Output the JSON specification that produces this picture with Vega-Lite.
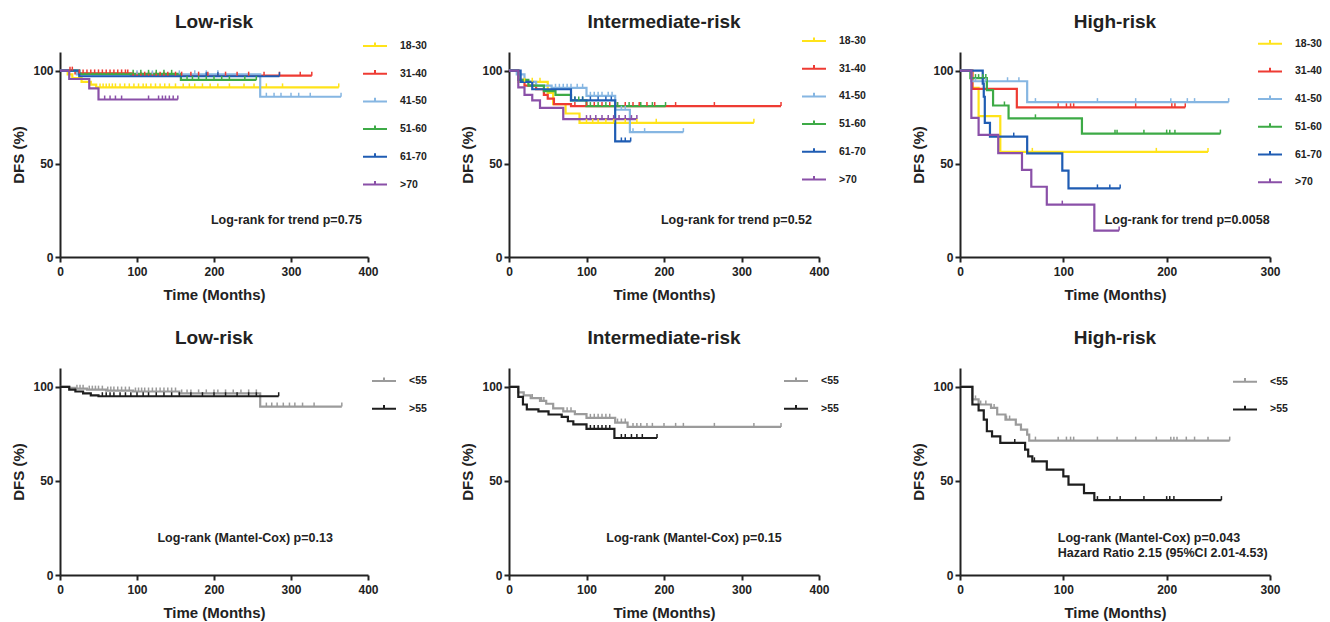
{
"$schema":"https://vega.github.io/schema/vega-lite/v6.json",
"padding":{"left":11,"top":13,"right":5,"bottom":2},
"background":"white",
"config":{
 "font":"Liberation Sans",
 "view":{"stroke":null},
 "axis":{"domainColor":"#222","domainWidth":2,"tickColor":"#222","tickWidth":2,"tickSize":5,"labelFontSize":12,"labelFontWeight":"bold","labelColor":"#222","labelPadding":2,"titleFontSize":15,"titleFontWeight":"bold","titleColor":"#222","grid":false,"labelFlush":false,"labelOverlap":false},
 "axisX":{"titlePadding":10,"labelPadding":4},
 "axisY":{"titlePadding":6},
 "title":{"fontSize":19,"fontWeight":"bold","color":"#222","frame":"group","offset":20,"anchor":"middle"},
 "legend":{"orient":"none","labelFontSize":10.5,"labelFontWeight":"bold","labelColor":"#222","symbolType":"M-1,0H1M0,0V-0.3","symbolSize":576,"symbolStrokeWidth":2,"labelOffset":12,"rowPadding":8.7,"padding":0}
},
"datasets":{
"steps":[
{"p":"TL","g":"18-30","t":0,"v":100},{"p":"TL","g":"18-30","t":10,"v":98},{"p":"TL","g":"18-30","t":16,"v":96},{"p":"TL","g":"18-30","t":28,"v":94},{"p":"TL","g":"18-30","t":40,"v":92.5},{"p":"TL","g":"18-30","t":47,"v":91},{"p":"TL","g":"18-30","t":362,"v":91},
{"p":"TL","g":"31-40","t":0,"v":100},{"p":"TL","g":"31-40","t":20,"v":98.5},{"p":"TL","g":"31-40","t":92,"v":97.3},{"p":"TL","g":"31-40","t":327,"v":97.3},
{"p":"TL","g":"41-50","t":0,"v":100},{"p":"TL","g":"41-50","t":22,"v":98},{"p":"TL","g":"41-50","t":260,"v":86},{"p":"TL","g":"41-50","t":365,"v":86},
{"p":"TL","g":"51-60","t":0,"v":100},{"p":"TL","g":"51-60","t":25,"v":98.3},{"p":"TL","g":"51-60","t":157,"v":95},{"p":"TL","g":"51-60","t":255,"v":95},
{"p":"TL","g":"61-70","t":0,"v":100},{"p":"TL","g":"61-70","t":25,"v":97},{"p":"TL","g":"61-70","t":285,"v":97},
{"p":"TL","g":">70","t":0,"v":100},{"p":"TL","g":">70","t":12,"v":95.5},{"p":"TL","g":">70","t":38,"v":90.5},{"p":"TL","g":">70","t":50,"v":84.5},{"p":"TL","g":">70","t":153,"v":84.5},
{"p":"TM","g":"18-30","t":0,"v":100},{"p":"TM","g":"18-30","t":12,"v":94},{"p":"TM","g":"18-30","t":50,"v":88},{"p":"TM","g":"18-30","t":57,"v":82},{"p":"TM","g":"18-30","t":73,"v":77},{"p":"TM","g":"18-30","t":91,"v":72},{"p":"TM","g":"18-30","t":316,"v":72},
{"p":"TM","g":"31-40","t":0,"v":100},{"p":"TM","g":"31-40","t":12,"v":95},{"p":"TM","g":"31-40","t":20,"v":92},{"p":"TM","g":"31-40","t":35,"v":90},{"p":"TM","g":"31-40","t":45,"v":87},{"p":"TM","g":"31-40","t":50,"v":85},{"p":"TM","g":"31-40","t":58,"v":82},{"p":"TM","g":"31-40","t":80,"v":81},{"p":"TM","g":"31-40","t":351,"v":81},
{"p":"TM","g":"41-50","t":0,"v":100},{"p":"TM","g":"41-50","t":10,"v":98},{"p":"TM","g":"41-50","t":20,"v":94},{"p":"TM","g":"41-50","t":35,"v":92},{"p":"TM","g":"41-50","t":55,"v":90.8},{"p":"TM","g":"41-50","t":100,"v":86.5},{"p":"TM","g":"41-50","t":137,"v":79},{"p":"TM","g":"41-50","t":156,"v":67},{"p":"TM","g":"41-50","t":225,"v":67},
{"p":"TM","g":"51-60","t":0,"v":100},{"p":"TM","g":"51-60","t":12,"v":95},{"p":"TM","g":"51-60","t":25,"v":92},{"p":"TM","g":"51-60","t":45,"v":89},{"p":"TM","g":"51-60","t":60,"v":87},{"p":"TM","g":"51-60","t":80,"v":84},{"p":"TM","g":"51-60","t":100,"v":81},{"p":"TM","g":"51-60","t":202,"v":81},
{"p":"TM","g":"61-70","t":0,"v":100},{"p":"TM","g":"61-70","t":15,"v":94},{"p":"TM","g":"61-70","t":30,"v":90},{"p":"TM","g":"61-70","t":80,"v":84},{"p":"TM","g":"61-70","t":137,"v":62},{"p":"TM","g":"61-70","t":157,"v":62},
{"p":"TM","g":">70","t":0,"v":100},{"p":"TM","g":">70","t":12,"v":91},{"p":"TM","g":">70","t":20,"v":87},{"p":"TM","g":">70","t":30,"v":84},{"p":"TM","g":">70","t":40,"v":80},{"p":"TM","g":">70","t":70,"v":74},{"p":"TM","g":">70","t":165,"v":74},
{"p":"TR","g":"18-30","t":0,"v":100},{"p":"TR","g":"18-30","t":12,"v":90.7},{"p":"TR","g":"18-30","t":18,"v":75.6},{"p":"TR","g":"18-30","t":39,"v":56.4},{"p":"TR","g":"18-30","t":240,"v":56.4},
{"p":"TR","g":"31-40","t":0,"v":100},{"p":"TR","g":"31-40","t":12,"v":90.2},{"p":"TR","g":"31-40","t":55,"v":80.3},{"p":"TR","g":"31-40","t":218,"v":80.3},
{"p":"TR","g":"41-50","t":0,"v":100},{"p":"TR","g":"41-50","t":11,"v":94.3},{"p":"TR","g":"41-50","t":65,"v":83.1},{"p":"TR","g":"41-50","t":260,"v":83.1},
{"p":"TR","g":"51-60","t":0,"v":100},{"p":"TR","g":"51-60","t":10,"v":96},{"p":"TR","g":"51-60","t":26,"v":89.5},{"p":"TR","g":"51-60","t":32,"v":81.3},{"p":"TR","g":"51-60","t":47,"v":74.4},{"p":"TR","g":"51-60","t":118,"v":66.2},{"p":"TR","g":"51-60","t":252,"v":66.2},
{"p":"TR","g":"61-70","t":0,"v":100},{"p":"TR","g":"61-70","t":22,"v":93},{"p":"TR","g":"61-70","t":23,"v":86},{"p":"TR","g":"61-70","t":24,"v":72},{"p":"TR","g":"61-70","t":29,"v":64.6},{"p":"TR","g":"61-70","t":65,"v":55.6},{"p":"TR","g":"61-70","t":99,"v":46.3},{"p":"TR","g":"61-70","t":105,"v":36.8},{"p":"TR","g":"61-70","t":155,"v":36.8},
{"p":"TR","g":">70","t":0,"v":100},{"p":"TR","g":">70","t":11,"v":74.7},{"p":"TR","g":">70","t":18,"v":65.5},{"p":"TR","g":">70","t":37,"v":55.7},{"p":"TR","g":">70","t":60,"v":46.8},{"p":"TR","g":">70","t":69,"v":37.7},{"p":"TR","g":">70","t":84,"v":28.1},{"p":"TR","g":">70","t":130,"v":14.2},{"p":"TR","g":">70","t":154,"v":14.2},
{"p":"BL","g":"<55","t":0,"v":100},{"p":"BL","g":"<55","t":12,"v":99.5},{"p":"BL","g":"<55","t":20,"v":99},{"p":"BL","g":"<55","t":35,"v":98.5},{"p":"BL","g":"<55","t":60,"v":98},{"p":"BL","g":"<55","t":95,"v":97.5},{"p":"BL","g":"<55","t":155,"v":96.5},{"p":"BL","g":"<55","t":260,"v":89.5},{"p":"BL","g":"<55","t":366,"v":89.5},
{"p":"BL","g":">55","t":0,"v":100},{"p":"BL","g":">55","t":12,"v":98.5},{"p":"BL","g":">55","t":20,"v":97.5},{"p":"BL","g":">55","t":30,"v":96.5},{"p":"BL","g":">55","t":40,"v":95.5},{"p":"BL","g":">55","t":50,"v":95},{"p":"BL","g":">55","t":284,"v":95},
{"p":"BM","g":"<55","t":0,"v":100},{"p":"BM","g":"<55","t":12,"v":97},{"p":"BM","g":"<55","t":19,"v":95.5},{"p":"BM","g":"<55","t":28,"v":94},{"p":"BM","g":"<55","t":40,"v":92.5},{"p":"BM","g":"<55","t":48,"v":91},{"p":"BM","g":"<55","t":57,"v":88.5},{"p":"BM","g":"<55","t":70,"v":87},{"p":"BM","g":"<55","t":85,"v":85.5},{"p":"BM","g":"<55","t":100,"v":83.5},{"p":"BM","g":"<55","t":137,"v":81},{"p":"BM","g":"<55","t":153,"v":78.7},{"p":"BM","g":"<55","t":351,"v":78.7},
{"p":"BM","g":">55","t":0,"v":100},{"p":"BM","g":">55","t":12,"v":94.7},{"p":"BM","g":">55","t":18,"v":90.6},{"p":"BM","g":">55","t":23,"v":88},{"p":"BM","g":">55","t":38,"v":87},{"p":"BM","g":">55","t":51,"v":85.3},{"p":"BM","g":">55","t":68,"v":84},{"p":"BM","g":">55","t":76,"v":81.7},{"p":"BM","g":">55","t":83,"v":80},{"p":"BM","g":">55","t":100,"v":77.6},{"p":"BM","g":">55","t":136,"v":72.8},{"p":"BM","g":">55","t":191,"v":72.8},
{"p":"BR","g":"<55","t":0,"v":100},{"p":"BR","g":"<55","t":12,"v":93.3},{"p":"BR","g":"<55","t":18,"v":90.6},{"p":"BR","g":"<55","t":30,"v":88.8},{"p":"BR","g":"<55","t":36,"v":85.3},{"p":"BR","g":"<55","t":44,"v":82.6},{"p":"BR","g":"<55","t":54,"v":79.9},{"p":"BR","g":"<55","t":59,"v":77.3},{"p":"BR","g":"<55","t":65,"v":74.6},{"p":"BR","g":"<55","t":67,"v":71.4},{"p":"BR","g":"<55","t":261,"v":71.4},
{"p":"BR","g":">55","t":0,"v":100},{"p":"BR","g":">55","t":12,"v":90.6},{"p":"BR","g":">55","t":18,"v":87.5},{"p":"BR","g":">55","t":23,"v":82.6},{"p":"BR","g":">55","t":26,"v":76.4},{"p":"BR","g":">55","t":31,"v":73.7},{"p":"BR","g":">55","t":39,"v":70.2},{"p":"BR","g":">55","t":63,"v":66.6},{"p":"BR","g":">55","t":66,"v":63},{"p":"BR","g":">55","t":70,"v":60.4},{"p":"BR","g":">55","t":84,"v":56},{"p":"BR","g":">55","t":100,"v":52.4},{"p":"BR","g":">55","t":105,"v":48},{"p":"BR","g":">55","t":120,"v":43.5},{"p":"BR","g":">55","t":130,"v":39.8},{"p":"BR","g":">55","t":253,"v":39.8}
],
"cens":[
{"p":"TL","g":"18-30","t":52,"v":91},{"p":"TL","g":"18-30","t":56,"v":91},{"p":"TL","g":"18-30","t":60,"v":91},{"p":"TL","g":"18-30","t":64,"v":91},{"p":"TL","g":"18-30","t":68,"v":91},{"p":"TL","g":"18-30","t":72,"v":91},{"p":"TL","g":"18-30","t":78,"v":91},{"p":"TL","g":"18-30","t":84,"v":91},{"p":"TL","g":"18-30","t":90,"v":91},{"p":"TL","g":"18-30","t":96,"v":91},{"p":"TL","g":"18-30","t":102,"v":91},{"p":"TL","g":"18-30","t":108,"v":91},{"p":"TL","g":"18-30","t":112,"v":91},{"p":"TL","g":"18-30","t":118,"v":91},{"p":"TL","g":"18-30","t":124,"v":91},{"p":"TL","g":"18-30","t":130,"v":91},{"p":"TL","g":"18-30","t":136,"v":91},{"p":"TL","g":"18-30","t":142,"v":91},{"p":"TL","g":"18-30","t":150,"v":91},{"p":"TL","g":"18-30","t":160,"v":91},{"p":"TL","g":"18-30","t":168,"v":91},{"p":"TL","g":"18-30","t":175,"v":91},{"p":"TL","g":"18-30","t":185,"v":91},{"p":"TL","g":"18-30","t":195,"v":91},{"p":"TL","g":"18-30","t":205,"v":91},{"p":"TL","g":"18-30","t":220,"v":91},{"p":"TL","g":"18-30","t":239,"v":91},{"p":"TL","g":"18-30","t":252,"v":91},{"p":"TL","g":"18-30","t":268,"v":91},{"p":"TL","g":"18-30","t":289,"v":91},{"p":"TL","g":"18-30","t":362,"v":91},
{"p":"TL","g":"31-40","t":13,"v":100},{"p":"TL","g":"31-40","t":16,"v":100},{"p":"TL","g":"31-40","t":25,"v":98.5},{"p":"TL","g":"31-40","t":30,"v":98.5},{"p":"TL","g":"31-40","t":35,"v":98.5},{"p":"TL","g":"31-40","t":40,"v":98.5},{"p":"TL","g":"31-40","t":45,"v":98.5},{"p":"TL","g":"31-40","t":50,"v":98.5},{"p":"TL","g":"31-40","t":55,"v":98.5},{"p":"TL","g":"31-40","t":60,"v":98.5},{"p":"TL","g":"31-40","t":65,"v":98.5},{"p":"TL","g":"31-40","t":70,"v":98.5},{"p":"TL","g":"31-40","t":75,"v":98.5},{"p":"TL","g":"31-40","t":80,"v":98.5},{"p":"TL","g":"31-40","t":85,"v":98.5},{"p":"TL","g":"31-40","t":88,"v":98.5},{"p":"TL","g":"31-40","t":95,"v":97.3},{"p":"TL","g":"31-40","t":100,"v":97.3},{"p":"TL","g":"31-40","t":105,"v":97.3},{"p":"TL","g":"31-40","t":110,"v":97.3},{"p":"TL","g":"31-40","t":115,"v":97.3},{"p":"TL","g":"31-40","t":120,"v":97.3},{"p":"TL","g":"31-40","t":125,"v":97.3},{"p":"TL","g":"31-40","t":130,"v":97.3},{"p":"TL","g":"31-40","t":135,"v":97.3},{"p":"TL","g":"31-40","t":140,"v":97.3},{"p":"TL","g":"31-40","t":150,"v":97.3},{"p":"TL","g":"31-40","t":158,"v":97.3},{"p":"TL","g":"31-40","t":170,"v":97.3},{"p":"TL","g":"31-40","t":180,"v":97.3},{"p":"TL","g":"31-40","t":192,"v":97.3},{"p":"TL","g":"31-40","t":205,"v":97.3},{"p":"TL","g":"31-40","t":215,"v":97.3},{"p":"TL","g":"31-40","t":230,"v":97.3},{"p":"TL","g":"31-40","t":245,"v":97.3},{"p":"TL","g":"31-40","t":265,"v":97.3},{"p":"TL","g":"31-40","t":285,"v":97.3},{"p":"TL","g":"31-40","t":312,"v":97.3},{"p":"TL","g":"31-40","t":327,"v":97.3},
{"p":"TL","g":"41-50","t":100,"v":98},{"p":"TL","g":"41-50","t":120,"v":98},{"p":"TL","g":"41-50","t":155,"v":98},{"p":"TL","g":"41-50","t":175,"v":98},{"p":"TL","g":"41-50","t":190,"v":98},{"p":"TL","g":"41-50","t":205,"v":98},{"p":"TL","g":"41-50","t":268,"v":86},{"p":"TL","g":"41-50","t":278,"v":86},{"p":"TL","g":"41-50","t":287,"v":86},{"p":"TL","g":"41-50","t":300,"v":86},{"p":"TL","g":"41-50","t":310,"v":86},{"p":"TL","g":"41-50","t":325,"v":86},{"p":"TL","g":"41-50","t":365,"v":86},
{"p":"TL","g":"51-60","t":95,"v":98.3},{"p":"TL","g":"51-60","t":105,"v":98.3},{"p":"TL","g":"51-60","t":115,"v":98.3},{"p":"TL","g":"51-60","t":125,"v":98.3},{"p":"TL","g":"51-60","t":135,"v":98.3},{"p":"TL","g":"51-60","t":145,"v":98.3},{"p":"TL","g":"51-60","t":165,"v":95},{"p":"TL","g":"51-60","t":172,"v":95},{"p":"TL","g":"51-60","t":180,"v":95},{"p":"TL","g":"51-60","t":190,"v":95},{"p":"TL","g":"51-60","t":200,"v":95},{"p":"TL","g":"51-60","t":210,"v":95},{"p":"TL","g":"51-60","t":220,"v":95},{"p":"TL","g":"51-60","t":240,"v":95},{"p":"TL","g":"51-60","t":255,"v":95},
{"p":"TL","g":"61-70","t":190,"v":97},{"p":"TL","g":"61-70","t":205,"v":97},{"p":"TL","g":"61-70","t":285,"v":97},
{"p":"TL","g":">70","t":58,"v":84.5},{"p":"TL","g":">70","t":65,"v":84.5},{"p":"TL","g":">70","t":72,"v":84.5},{"p":"TL","g":">70","t":80,"v":84.5},{"p":"TL","g":">70","t":115,"v":84.5},{"p":"TL","g":">70","t":128,"v":84.5},{"p":"TL","g":">70","t":133,"v":84.5},{"p":"TL","g":">70","t":137,"v":84.5},{"p":"TL","g":">70","t":142,"v":84.5},{"p":"TL","g":">70","t":147,"v":84.5},{"p":"TL","g":">70","t":153,"v":84.5},
{"p":"TM","g":"18-30","t":20,"v":94},{"p":"TM","g":"18-30","t":30,"v":94},{"p":"TM","g":"18-30","t":40,"v":94},{"p":"TM","g":"18-30","t":100,"v":72},{"p":"TM","g":"18-30","t":108,"v":72},{"p":"TM","g":"18-30","t":115,"v":72},{"p":"TM","g":"18-30","t":125,"v":72},{"p":"TM","g":"18-30","t":135,"v":72},{"p":"TM","g":"18-30","t":150,"v":72},{"p":"TM","g":"18-30","t":165,"v":72},{"p":"TM","g":"18-30","t":190,"v":72},{"p":"TM","g":"18-30","t":316,"v":72},
{"p":"TM","g":"31-40","t":85,"v":81},{"p":"TM","g":"31-40","t":100,"v":81},{"p":"TM","g":"31-40","t":110,"v":81},{"p":"TM","g":"31-40","t":120,"v":81},{"p":"TM","g":"31-40","t":130,"v":81},{"p":"TM","g":"31-40","t":140,"v":81},{"p":"TM","g":"31-40","t":150,"v":81},{"p":"TM","g":"31-40","t":160,"v":81},{"p":"TM","g":"31-40","t":168,"v":81},{"p":"TM","g":"31-40","t":178,"v":81},{"p":"TM","g":"31-40","t":188,"v":81},{"p":"TM","g":"31-40","t":215,"v":81},{"p":"TM","g":"31-40","t":265,"v":81},{"p":"TM","g":"31-40","t":351,"v":81},
{"p":"TM","g":"41-50","t":60,"v":90.8},{"p":"TM","g":"41-50","t":65,"v":90.8},{"p":"TM","g":"41-50","t":70,"v":90.8},{"p":"TM","g":"41-50","t":75,"v":90.8},{"p":"TM","g":"41-50","t":80,"v":90.8},{"p":"TM","g":"41-50","t":88,"v":90.8},{"p":"TM","g":"41-50","t":95,"v":90.8},{"p":"TM","g":"41-50","t":105,"v":86.5},{"p":"TM","g":"41-50","t":110,"v":86.5},{"p":"TM","g":"41-50","t":115,"v":86.5},{"p":"TM","g":"41-50","t":120,"v":86.5},{"p":"TM","g":"41-50","t":128,"v":86.5},{"p":"TM","g":"41-50","t":133,"v":86.5},{"p":"TM","g":"41-50","t":145,"v":79},{"p":"TM","g":"41-50","t":150,"v":79},{"p":"TM","g":"41-50","t":160,"v":67},{"p":"TM","g":"41-50","t":175,"v":67},{"p":"TM","g":"41-50","t":225,"v":67},
{"p":"TM","g":"51-60","t":85,"v":84},{"p":"TM","g":"51-60","t":90,"v":84},{"p":"TM","g":"51-60","t":95,"v":84},{"p":"TM","g":"51-60","t":105,"v":81},{"p":"TM","g":"51-60","t":115,"v":81},{"p":"TM","g":"51-60","t":125,"v":81},{"p":"TM","g":"51-60","t":140,"v":81},{"p":"TM","g":"51-60","t":155,"v":81},{"p":"TM","g":"51-60","t":170,"v":81},{"p":"TM","g":"51-60","t":185,"v":81},{"p":"TM","g":"51-60","t":202,"v":81},
{"p":"TM","g":"61-70","t":85,"v":84},{"p":"TM","g":"61-70","t":95,"v":84},{"p":"TM","g":"61-70","t":105,"v":84},{"p":"TM","g":"61-70","t":115,"v":84},{"p":"TM","g":"61-70","t":125,"v":84},{"p":"TM","g":"61-70","t":132,"v":84},{"p":"TM","g":"61-70","t":145,"v":62},{"p":"TM","g":"61-70","t":150,"v":62},{"p":"TM","g":"61-70","t":157,"v":62},
{"p":"TM","g":">70","t":100,"v":74},{"p":"TM","g":">70","t":105,"v":74},{"p":"TM","g":">70","t":112,"v":74},{"p":"TM","g":">70","t":120,"v":74},{"p":"TM","g":">70","t":128,"v":74},{"p":"TM","g":">70","t":135,"v":74},{"p":"TM","g":">70","t":142,"v":74},{"p":"TM","g":">70","t":150,"v":74},{"p":"TM","g":">70","t":158,"v":74},{"p":"TM","g":">70","t":165,"v":74},
{"p":"TR","g":"18-30","t":70,"v":56.4},{"p":"TR","g":"18-30","t":190,"v":56.4},{"p":"TR","g":"18-30","t":240,"v":56.4},
{"p":"TR","g":"31-40","t":95,"v":80.3},{"p":"TR","g":"31-40","t":103,"v":80.3},{"p":"TR","g":"31-40","t":107,"v":80.3},{"p":"TR","g":"31-40","t":110,"v":80.3},{"p":"TR","g":"31-40","t":170,"v":80.3},{"p":"TR","g":"31-40","t":205,"v":80.3},{"p":"TR","g":"31-40","t":208,"v":80.3},{"p":"TR","g":"31-40","t":218,"v":80.3},
{"p":"TR","g":"41-50","t":15,"v":94.3},{"p":"TR","g":"41-50","t":25,"v":94.3},{"p":"TR","g":"41-50","t":46,"v":94.3},{"p":"TR","g":"41-50","t":57,"v":94.3},{"p":"TR","g":"41-50","t":73,"v":83.1},{"p":"TR","g":"41-50","t":133,"v":83.1},{"p":"TR","g":"41-50","t":170,"v":83.1},{"p":"TR","g":"41-50","t":204,"v":83.1},{"p":"TR","g":"41-50","t":220,"v":83.1},{"p":"TR","g":"41-50","t":227,"v":83.1},{"p":"TR","g":"41-50","t":260,"v":83.1},
{"p":"TR","g":"51-60","t":15,"v":96},{"p":"TR","g":"51-60","t":18,"v":96},{"p":"TR","g":"51-60","t":22,"v":96},{"p":"TR","g":"51-60","t":25,"v":96},{"p":"TR","g":"51-60","t":43,"v":81.3},{"p":"TR","g":"51-60","t":73,"v":74.4},{"p":"TR","g":"51-60","t":150,"v":66.2},{"p":"TR","g":"51-60","t":152,"v":66.2},{"p":"TR","g":"51-60","t":178,"v":66.2},{"p":"TR","g":"51-60","t":200,"v":66.2},{"p":"TR","g":"51-60","t":203,"v":66.2},{"p":"TR","g":"51-60","t":208,"v":66.2},{"p":"TR","g":"51-60","t":252,"v":66.2},
{"p":"TR","g":"61-70","t":52,"v":64.6},{"p":"TR","g":"61-70","t":133,"v":36.8},{"p":"TR","g":"61-70","t":145,"v":36.8},{"p":"TR","g":"61-70","t":155,"v":36.8},
{"p":"TR","g":">70","t":99,"v":28.1},{"p":"TR","g":">70","t":154,"v":14.2},
{"p":"BL","g":"<55","t":22,"v":99},{"p":"BL","g":"<55","t":26,"v":99},{"p":"BL","g":"<55","t":30,"v":99},{"p":"BL","g":"<55","t":38,"v":98.5},{"p":"BL","g":"<55","t":42,"v":98.5},{"p":"BL","g":"<55","t":46,"v":98.5},{"p":"BL","g":"<55","t":50,"v":98.5},{"p":"BL","g":"<55","t":55,"v":98.5},{"p":"BL","g":"<55","t":62,"v":98},{"p":"BL","g":"<55","t":66,"v":98},{"p":"BL","g":"<55","t":70,"v":98},{"p":"BL","g":"<55","t":75,"v":98},{"p":"BL","g":"<55","t":80,"v":98},{"p":"BL","g":"<55","t":85,"v":98},{"p":"BL","g":"<55","t":90,"v":98},{"p":"BL","g":"<55","t":98,"v":97.5},{"p":"BL","g":"<55","t":102,"v":97.5},{"p":"BL","g":"<55","t":106,"v":97.5},{"p":"BL","g":"<55","t":110,"v":97.5},{"p":"BL","g":"<55","t":115,"v":97.5},{"p":"BL","g":"<55","t":120,"v":97.5},{"p":"BL","g":"<55","t":125,"v":97.5},{"p":"BL","g":"<55","t":130,"v":97.5},{"p":"BL","g":"<55","t":135,"v":97.5},{"p":"BL","g":"<55","t":140,"v":97.5},{"p":"BL","g":"<55","t":145,"v":97.5},{"p":"BL","g":"<55","t":150,"v":97.5},{"p":"BL","g":"<55","t":158,"v":96.5},{"p":"BL","g":"<55","t":165,"v":96.5},{"p":"BL","g":"<55","t":170,"v":96.5},{"p":"BL","g":"<55","t":180,"v":96.5},{"p":"BL","g":"<55","t":190,"v":96.5},{"p":"BL","g":"<55","t":200,"v":96.5},{"p":"BL","g":"<55","t":205,"v":96.5},{"p":"BL","g":"<55","t":215,"v":96.5},{"p":"BL","g":"<55","t":225,"v":96.5},{"p":"BL","g":"<55","t":235,"v":96.5},{"p":"BL","g":"<55","t":245,"v":96.5},{"p":"BL","g":"<55","t":255,"v":96.5},{"p":"BL","g":"<55","t":268,"v":89.5},{"p":"BL","g":"<55","t":275,"v":89.5},{"p":"BL","g":"<55","t":282,"v":89.5},{"p":"BL","g":"<55","t":290,"v":89.5},{"p":"BL","g":"<55","t":298,"v":89.5},{"p":"BL","g":"<55","t":305,"v":89.5},{"p":"BL","g":"<55","t":315,"v":89.5},{"p":"BL","g":"<55","t":330,"v":89.5},{"p":"BL","g":"<55","t":366,"v":89.5},
{"p":"BL","g":">55","t":55,"v":95},{"p":"BL","g":">55","t":60,"v":95},{"p":"BL","g":">55","t":65,"v":95},{"p":"BL","g":">55","t":70,"v":95},{"p":"BL","g":">55","t":78,"v":95},{"p":"BL","g":">55","t":85,"v":95},{"p":"BL","g":">55","t":92,"v":95},{"p":"BL","g":">55","t":100,"v":95},{"p":"BL","g":">55","t":108,"v":95},{"p":"BL","g":">55","t":115,"v":95},{"p":"BL","g":">55","t":125,"v":95},{"p":"BL","g":">55","t":135,"v":95},{"p":"BL","g":">55","t":145,"v":95},{"p":"BL","g":">55","t":155,"v":95},{"p":"BL","g":">55","t":170,"v":95},{"p":"BL","g":">55","t":185,"v":95},{"p":"BL","g":">55","t":200,"v":95},{"p":"BL","g":">55","t":215,"v":95},{"p":"BL","g":">55","t":230,"v":95},{"p":"BL","g":">55","t":245,"v":95},{"p":"BL","g":">55","t":255,"v":95},{"p":"BL","g":">55","t":284,"v":95},
{"p":"BM","g":"<55","t":30,"v":94},{"p":"BM","g":"<55","t":42,"v":92.5},{"p":"BM","g":"<55","t":45,"v":92.5},{"p":"BM","g":"<55","t":75,"v":87},{"p":"BM","g":"<55","t":80,"v":87},{"p":"BM","g":"<55","t":105,"v":83.5},{"p":"BM","g":"<55","t":110,"v":83.5},{"p":"BM","g":"<55","t":115,"v":83.5},{"p":"BM","g":"<55","t":120,"v":83.5},{"p":"BM","g":"<55","t":125,"v":83.5},{"p":"BM","g":"<55","t":130,"v":83.5},{"p":"BM","g":"<55","t":140,"v":81},{"p":"BM","g":"<55","t":145,"v":81},{"p":"BM","g":"<55","t":150,"v":81},{"p":"BM","g":"<55","t":160,"v":78.7},{"p":"BM","g":"<55","t":165,"v":78.7},{"p":"BM","g":"<55","t":170,"v":78.7},{"p":"BM","g":"<55","t":178,"v":78.7},{"p":"BM","g":"<55","t":185,"v":78.7},{"p":"BM","g":"<55","t":200,"v":78.7},{"p":"BM","g":"<55","t":215,"v":78.7},{"p":"BM","g":"<55","t":225,"v":78.7},{"p":"BM","g":"<55","t":265,"v":78.7},{"p":"BM","g":"<55","t":316,"v":78.7},{"p":"BM","g":"<55","t":351,"v":78.7},
{"p":"BM","g":">55","t":105,"v":77.6},{"p":"BM","g":">55","t":110,"v":77.6},{"p":"BM","g":">55","t":115,"v":77.6},{"p":"BM","g":">55","t":120,"v":77.6},{"p":"BM","g":">55","t":125,"v":77.6},{"p":"BM","g":">55","t":130,"v":77.6},{"p":"BM","g":">55","t":145,"v":72.8},{"p":"BM","g":">55","t":150,"v":72.8},{"p":"BM","g":">55","t":158,"v":72.8},{"p":"BM","g":">55","t":165,"v":72.8},{"p":"BM","g":">55","t":172,"v":72.8},{"p":"BM","g":">55","t":191,"v":72.8},
{"p":"BR","g":"<55","t":15,"v":93.3},{"p":"BR","g":"<55","t":20,"v":90.6},{"p":"BR","g":"<55","t":25,"v":90.6},{"p":"BR","g":"<55","t":33,"v":88.8},{"p":"BR","g":"<55","t":45,"v":82.6},{"p":"BR","g":"<55","t":48,"v":82.6},{"p":"BR","g":"<55","t":73,"v":71.4},{"p":"BR","g":"<55","t":95,"v":71.4},{"p":"BR","g":"<55","t":103,"v":71.4},{"p":"BR","g":"<55","t":107,"v":71.4},{"p":"BR","g":"<55","t":110,"v":71.4},{"p":"BR","g":"<55","t":133,"v":71.4},{"p":"BR","g":"<55","t":152,"v":71.4},{"p":"BR","g":"<55","t":170,"v":71.4},{"p":"BR","g":"<55","t":190,"v":71.4},{"p":"BR","g":"<55","t":204,"v":71.4},{"p":"BR","g":"<55","t":207,"v":71.4},{"p":"BR","g":"<55","t":210,"v":71.4},{"p":"BR","g":"<55","t":219,"v":71.4},{"p":"BR","g":"<55","t":227,"v":71.4},{"p":"BR","g":"<55","t":240,"v":71.4},{"p":"BR","g":"<55","t":261,"v":71.4},
{"p":"BR","g":">55","t":53,"v":70.2},{"p":"BR","g":">55","t":72,"v":60.4},{"p":"BR","g":">55","t":133,"v":39.8},{"p":"BR","g":">55","t":145,"v":39.8},{"p":"BR","g":">55","t":155,"v":39.8},{"p":"BR","g":">55","t":178,"v":39.8},{"p":"BR","g":">55","t":200,"v":39.8},{"p":"BR","g":">55","t":203,"v":39.8},{"p":"BR","g":">55","t":207,"v":39.8},{"p":"BR","g":">55","t":253,"v":39.8}
],
"notes":[
{"p":"TL","t":196,"v":19.6,"label":"Log-rank for trend p=0.75"},
{"p":"TM","t":196,"v":19.7,"label":"Log-rank for trend p=0.52"},
{"p":"TR","t":140,"v":19.6,"label":"Log-rank for trend p=0.0058"},
{"p":"BL","t":126.6,"v":19.5,"label":"Log-rank (Mantel-Cox) p=0.13"},
{"p":"BM","t":125.6,"v":19.5,"label":"Log-rank (Mantel-Cox) p=0.15"},
{"p":"BR","t":94.6,"v":19.6,"label":"Log-rank (Mantel-Cox) p=0.043"},
{"p":"BR","t":94.6,"v":11.6,"label":"Hazard Ratio 2.15 (95%CI 2.01-4.53)"}
]
},
"spacing":316,
"bounds":"flush",
"resolve":{"scale":{"color":"independent"},"legend":{"color":"independent"}},
"vconcat":[
{"hconcat":[
 {"width":308,"height":205,"title":{"text":"Low-risk","offset":0.9},"layer":[
  {"data":{"name":"steps"},"transform":[{"filter":"datum.p=='TL'"}],"mark":{"type":"line","interpolate":"step-after","strokeWidth":2.2},"encoding":{"x":{"field":"t","type":"quantitative","scale":{"domain":[0,400]},"axis":{"values":[0,100,200,300,400],"title":"Time (Months)"}},"y":{"field":"v","type":"quantitative","scale":{"domain":[0,110]},"axis":{"values":[0,50,100],"title":"DFS (%)"}},"color":{"field":"g","type":"nominal","scale":{"domain":["18-30","31-40","41-50","51-60","61-70",">70"],"range":["#FFE31A","#EE3B33","#86B6E2","#3DAA46","#1F5CB3","#8A50A8"]},"legend":{"title":null,"legendX":302,"legendY":-19}}}},
  {"data":{"name":"cens"},"transform":[{"filter":"datum.p=='TL'"}],"mark":{"type":"point","shape":"M0,0V-1","filled":false,"size":64,"strokeWidth":1.5,"opacity":1},"encoding":{"x":{"field":"t","type":"quantitative"},"y":{"field":"v","type":"quantitative"},"color":{"field":"g","type":"nominal"}}},
  {"data":{"name":"notes"},"transform":[{"filter":"datum.p=='TL'"}],"mark":{"type":"text","align":"left","baseline":"middle","fontSize":12.5,"fontWeight":"bold","color":"#222"},"encoding":{"x":{"field":"t","type":"quantitative"},"y":{"field":"v","type":"quantitative"},"text":{"field":"label"}}}
 ]},
 {"width":310,"height":205,"title":{"text":"Intermediate-risk","offset":-4.1},"layer":[
  {"data":{"name":"steps"},"transform":[{"filter":"datum.p=='TM'"}],"mark":{"type":"line","interpolate":"step-after","strokeWidth":2.2},"encoding":{"x":{"field":"t","type":"quantitative","scale":{"domain":[0,400]},"axis":{"values":[0,100,200,300,400],"title":"Time (Months)"}},"y":{"field":"v","type":"quantitative","scale":{"domain":[0,110]},"axis":{"values":[0,50,100],"title":"DFS (%)"}},"color":{"field":"g","type":"nominal","scale":{"domain":["18-30","31-40","41-50","51-60","61-70",">70"],"range":["#FFE31A","#EE3B33","#86B6E2","#3DAA46","#1F5CB3","#8A50A8"]},"legend":{"title":null,"legendX":292,"legendY":-24}}}},
  {"data":{"name":"cens"},"transform":[{"filter":"datum.p=='TM'"}],"mark":{"type":"point","shape":"M0,0V-1","filled":false,"size":64,"strokeWidth":1.5,"opacity":1},"encoding":{"x":{"field":"t","type":"quantitative"},"y":{"field":"v","type":"quantitative"},"color":{"field":"g","type":"nominal"}}},
  {"data":{"name":"notes"},"transform":[{"filter":"datum.p=='TM'"}],"mark":{"type":"text","align":"left","baseline":"middle","fontSize":12.5,"fontWeight":"bold","color":"#222"},"encoding":{"x":{"field":"t","type":"quantitative"},"y":{"field":"v","type":"quantitative"},"text":{"field":"label"}}}
 ]},
 {"width":310,"height":205,"title":{"text":"High-risk","offset":-1.5},"layer":[
  {"data":{"name":"steps"},"transform":[{"filter":"datum.p=='TR'"}],"mark":{"type":"line","interpolate":"step-after","strokeWidth":2.2},"encoding":{"x":{"field":"t","type":"quantitative","scale":{"domain":[0,300]},"axis":{"values":[0,100,200,300],"title":"Time (Months)"}},"y":{"field":"v","type":"quantitative","scale":{"domain":[0,110]},"axis":{"values":[0,50,100],"title":"DFS (%)"}},"color":{"field":"g","type":"nominal","scale":{"domain":["18-30","31-40","41-50","51-60","61-70",">70"],"range":["#FFE31A","#EE3B33","#86B6E2","#3DAA46","#1F5CB3","#8A50A8"]},"legend":{"title":null,"legendX":297,"legendY":-21.3}}}},
  {"data":{"name":"cens"},"transform":[{"filter":"datum.p=='TR'"}],"mark":{"type":"point","shape":"M0,0V-1","filled":false,"size":64,"strokeWidth":1.5,"opacity":1},"encoding":{"x":{"field":"t","type":"quantitative"},"y":{"field":"v","type":"quantitative"},"color":{"field":"g","type":"nominal"}}},
  {"data":{"name":"notes"},"transform":[{"filter":"datum.p=='TR'"}],"mark":{"type":"text","align":"left","baseline":"middle","fontSize":12.5,"fontWeight":"bold","color":"#222"},"encoding":{"x":{"field":"t","type":"quantitative"},"y":{"field":"v","type":"quantitative"},"text":{"field":"label"}}}
 ]}
],"spacing":141,"bounds":"flush","resolve":{"scale":{"color":"independent"},"legend":{"color":"independent"}}},
{"hconcat":[
 {"width":308,"height":207,"title":{"text":"Low-risk","offset":20},"layer":[
  {"data":{"name":"steps"},"transform":[{"filter":"datum.p=='BL'"}],"mark":{"type":"line","interpolate":"step-after","strokeWidth":2.2},"encoding":{"x":{"field":"t","type":"quantitative","scale":{"domain":[0,400]},"axis":{"values":[0,100,200,300,400],"title":"Time (Months)"}},"y":{"field":"v","type":"quantitative","scale":{"domain":[0,110]},"axis":{"values":[0,50,100],"title":"DFS (%)"}},"color":{"field":"g","type":"nominal","scale":{"domain":["<55",">55"],"range":["#9B9B9B","#1E1E1E"]},"legend":{"title":null,"legendX":311,"legendY":0}}}},
  {"data":{"name":"cens"},"transform":[{"filter":"datum.p=='BL'"}],"mark":{"type":"point","shape":"M0,0V-1","filled":false,"size":64,"strokeWidth":1.5,"opacity":1},"encoding":{"x":{"field":"t","type":"quantitative"},"y":{"field":"v","type":"quantitative"},"color":{"field":"g","type":"nominal"}}},
  {"data":{"name":"notes"},"transform":[{"filter":"datum.p=='BL'"}],"mark":{"type":"text","align":"left","baseline":"middle","fontSize":12.5,"fontWeight":"bold","color":"#222"},"encoding":{"x":{"field":"t","type":"quantitative"},"y":{"field":"v","type":"quantitative"},"text":{"field":"label"}}}
 ]},
 {"width":310,"height":207,"title":{"text":"Intermediate-risk","offset":20},"layer":[
  {"data":{"name":"steps"},"transform":[{"filter":"datum.p=='BM'"}],"mark":{"type":"line","interpolate":"step-after","strokeWidth":2.2},"encoding":{"x":{"field":"t","type":"quantitative","scale":{"domain":[0,400]},"axis":{"values":[0,100,200,300,400],"title":"Time (Months)"}},"y":{"field":"v","type":"quantitative","scale":{"domain":[0,110]},"axis":{"values":[0,50,100],"title":"DFS (%)"}},"color":{"field":"g","type":"nominal","scale":{"domain":["<55",">55"],"range":["#9B9B9B","#1E1E1E"]},"legend":{"title":null,"legendX":274,"legendY":0}}}},
  {"data":{"name":"cens"},"transform":[{"filter":"datum.p=='BM'"}],"mark":{"type":"point","shape":"M0,0V-1","filled":false,"size":64,"strokeWidth":1.5,"opacity":1},"encoding":{"x":{"field":"t","type":"quantitative"},"y":{"field":"v","type":"quantitative"},"color":{"field":"g","type":"nominal"}}},
  {"data":{"name":"notes"},"transform":[{"filter":"datum.p=='BM'"}],"mark":{"type":"text","align":"left","baseline":"middle","fontSize":12.5,"fontWeight":"bold","color":"#222"},"encoding":{"x":{"field":"t","type":"quantitative"},"y":{"field":"v","type":"quantitative"},"text":{"field":"label"}}}
 ]},
 {"width":310,"height":207,"title":{"text":"High-risk","offset":20},"layer":[
  {"data":{"name":"steps"},"transform":[{"filter":"datum.p=='BR'"}],"mark":{"type":"line","interpolate":"step-after","strokeWidth":2.2},"encoding":{"x":{"field":"t","type":"quantitative","scale":{"domain":[0,300]},"axis":{"values":[0,100,200,300],"title":"Time (Months)"}},"y":{"field":"v","type":"quantitative","scale":{"domain":[0,110]},"axis":{"values":[0,50,100],"title":"DFS (%)"}},"color":{"field":"g","type":"nominal","scale":{"domain":["<55",">55"],"range":["#9B9B9B","#1E1E1E"]},"legend":{"title":null,"legendX":272,"legendY":0.7}}}},
  {"data":{"name":"cens"},"transform":[{"filter":"datum.p=='BR'"}],"mark":{"type":"point","shape":"M0,0V-1","filled":false,"size":64,"strokeWidth":1.5,"opacity":1},"encoding":{"x":{"field":"t","type":"quantitative"},"y":{"field":"v","type":"quantitative"},"color":{"field":"g","type":"nominal"}}},
  {"data":{"name":"notes"},"transform":[{"filter":"datum.p=='BR'"}],"mark":{"type":"text","align":"left","baseline":"middle","fontSize":12.5,"fontWeight":"bold","color":"#222"},"encoding":{"x":{"field":"t","type":"quantitative"},"y":{"field":"v","type":"quantitative"},"text":{"field":"label"}}}
 ]}
],"spacing":141,"bounds":"flush","resolve":{"scale":{"color":"independent"},"legend":{"color":"independent"}}}
]
}
